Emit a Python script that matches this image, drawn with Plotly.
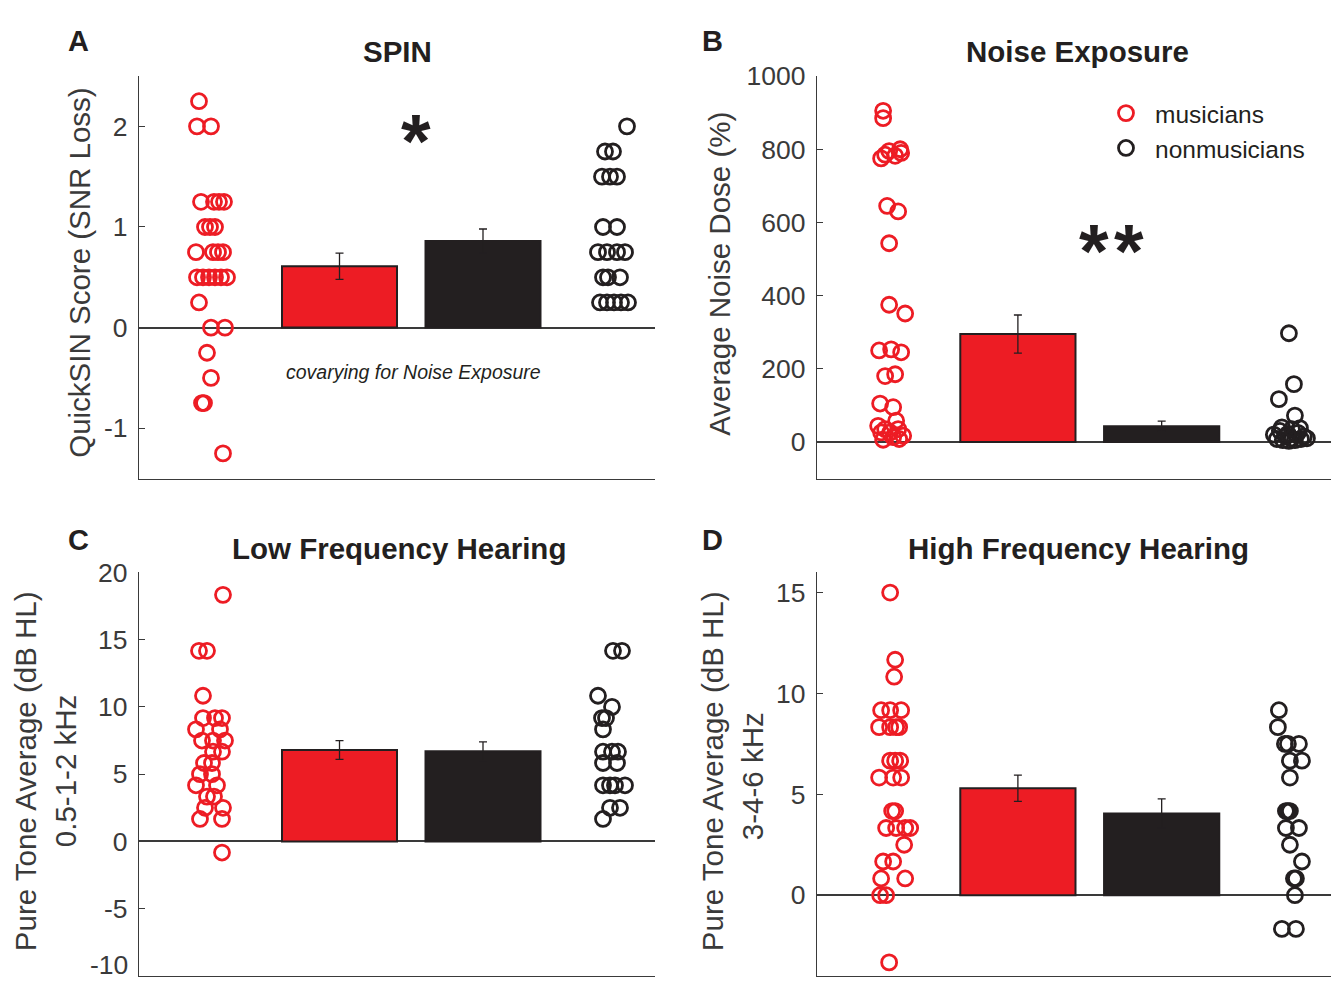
import plotly.graph_objects as go

# ---------------- data ----------------
groups = ["musicians", "nonmusicians"]

# Panel A: SPIN (QuickSIN, SNR loss)
spin_mus = [2.25, 2.0, 2.0, 1.25, 1.25, 1.25, 1.25, 1.0, 1.0, 1.0, 0.75, 0.75, 0.75, 0.75,
            0.5, 0.5, 0.5, 0.5, 0.5, 0.5, 0.25, 0.0, 0.0, -0.25, -0.5, -0.75, -0.75, -1.25]
spin_mus_jit = [-12, -14, 0, -10, 3, 8, 13, -6, -1, 4, -15, 2, 7, 12,
                -14, -8, -2, 4, 10, 16, -12, 0, 14, -4, 0, -9, -7, 12]
spin_non = [2.0, 1.75, 1.75, 1.5, 1.5, 1.5, 1.0, 1.0, 0.75, 0.75, 0.75, 0.75,
            0.5, 0.5, 0.5, 0.25, 0.25, 0.25, 0.25, 0.25]
spin_non_jit = [16, -6, 2, -9, -1, 6, -8, 6, -13, -4, 6, 14, -8, -3, 9, -11, -4, 3, 10, 17]
spin_bar = [0.61, 0.86]
spin_err = [0.13, 0.12]

# Panel B: Noise exposure (average noise dose, %)
noise_mus = [905, 885, 775, 785, 795, 800, 790, 782, 645, 630, 543, 375, 351, 250, 253, 245,
             180, 185, 105, 95, 44, 35, 58, 35, 26, 17, 26, 13, 6, 8]
noise_mus_jit = [-6, -6, -8, -4, 0, 11, 12, 6, -2, 9, 0, 0, 16, -10, 2, 12,
                 -4, 6, -9, 4, -11, -4, 7, 9, 1, 14, -8, 4, -6, 10]
noise_non = [297, 158, 117, 72, 20, 30, 15, 10, 25, 15, 8, 5, 3, 5, 8, 10, 40, 35, 38, 22]
noise_non_jit = [-1, 4, -11, 5, -16, -10, -4, 2, 8, 14, -13, -7, -1, 5, 11, 17, -8, 2, 10, -2]
noise_bar = [295, 43]
noise_err = [52, 14]

# Panel C: Low-frequency PTA (0.5-1-2 kHz, dB HL)
low_mus = [18.33, 14.17, 14.17, 10.83, 9.17, 9.17, 9.17, 8.33, 8.33, 7.5, 7.5, 7.5, 6.67, 6.67,
           5.83, 5.83, 5.0, 5.0, 4.17, 4.17, 3.33, 3.33, 2.5, 2.5, 1.67, 1.67, -0.83]
low_mus_jit = [12, -12, -4, -8, -8, 11, 4, -15, 9, -9, 2, 14, 2, 11,
               -7, 1, -11, 1, -15, 6, -4, 3, -6, 12, -11, 11, 11]
low_non = [14.17, 14.17, 10.83, 10.0, 9.17, 9.17, 8.33, 6.67, 6.67, 6.67, 5.83, 5.83,
           4.17, 4.17, 4.17, 4.17, 2.5, 2.5, 1.67]
low_non_jit = [2, 11, -13, 1, -9, -5, -8, -8, 1, 7, -8, 6, -8, -1, 4, 14, -1, 9, -8]
low_bar = [6.8, 6.7]
low_err = [0.7, 0.7]

# Panel D: High-frequency PTA (3-4-6 kHz, dB HL)
high_mus = [15.0, 11.67, 10.83, 9.17, 9.17, 9.17, 8.33, 8.33, 8.33, 8.33, 6.67, 6.67, 6.67,
            5.83, 5.83, 5.83, 4.17, 4.17, 3.33, 3.33, 3.33, 3.33, 2.5, 1.67, 1.67,
            0.83, 0.83, 0.0, 0.0, -3.33]
high_mus_jit = [1, 6, 5, -8, 1, 12, -10, 1, 7, 10, 1, 6, 11,
                -10, 4, 12, 6, 3, -3, 7, 16, 21, 15, -6, 4, -8, 16, -9, -3, 0]
high_non = [9.17, 8.33, 7.5, 7.5, 7.5, 6.67, 6.67, 5.83, 4.17, 4.17, 4.17, 3.33, 3.33,
            2.5, 1.67, 0.83, 0.83, 0.0, -1.67, -1.67]
high_non_jit = [-11, -12, -5, -2, 9, 0, 12, 0, -4, -2, 0, -4, 9, 0, 12, 4, 6, 5, -8, 6]
high_bar = [5.3, 4.05]
high_err = [0.65, 0.72]

# the lowest low-frequency tick label sits at the page edge and is drawn as a text note
low_edge_label = "-10"

panels = [
    dict(mus=spin_mus, mj=spin_mus_jit, non=spin_non, nj=spin_non_jit, bar=spin_bar, err=spin_err,
         yr=[-1.5, 2.5], tv=[-1, 0, 1, 2], tt=["-1", "0", "1", "2"]),
    dict(mus=noise_mus, mj=noise_mus_jit, non=noise_non, nj=noise_non_jit, bar=noise_bar, err=noise_err,
         yr=[-100, 1000], tv=[0, 200, 400, 600, 800, 1000], tt=["0", "200", "400", "600", "800", "1000"]),
    dict(mus=low_mus, mj=low_mus_jit, non=low_non, nj=low_non_jit, bar=low_bar, err=low_err,
         yr=[-10, 20], tv=[-10, -5, 0, 5, 10, 15, 20], tt=["", "-5", "0", "5", "10", "15", "20"]),
    dict(mus=high_mus, mj=high_mus_jit, non=high_non, nj=high_non_jit, bar=high_bar, err=high_err,
         yr=[-4, 16], tv=[0, 5, 10, 15], tt=["0", "5", "10", "15"]),
]

# ---------------- styling ----------------
RED = "#ED1C24"
BLK = "#231F20"
AX = "#3a3a3a"
FONT = "Liberation Sans, Arial, sans-serif"

# page geometry: figure sits below a small page offset; the page is shown scaled to fit
OFFX = 8
TOP = 22.2
W, H = 1339 - 2 * OFFX, 973
S = 989 / (TOP + H + 8)

def fy(Y):
    """screen y (target) -> figure y"""
    return Y / S - TOP

def px(X):
    return min(1.0, max(0.0, (X - OFFX) / W))

def py(Y):
    return min(1.0, max(0.0, 1 - fy(Y) / H))

# x positions (axis units) for: musician dots, musician bar, nonmusician bar, nonmusician dots
XPOS = [72, 200.5, 344, 472]
BARW = 115
XR_A = [0, 516]
XR_B = [0, 516 * (px(1334) - px(817)) / ((1334 - 817) / W)]

xdom = [[px(139), px(655)], [px(817), px(1334)], [px(139), px(655)], [px(817), px(1334)]]
ydom = [[py(478), py(75)], [py(478), py(75)], [py(976), py(572)], [py(976), py(572)]]
xr = [XR_A, XR_B, XR_A, XR_B]

fig = go.Figure()
layout = dict(
    width=W, height=H,
    margin=dict(l=0, r=0, t=0, b=0),
    paper_bgcolor="white", plot_bgcolor="white",
    font=dict(family=FONT, color=AX),
    showlegend=True,
    legend=dict(x=px(1097), y=1 - (fy(114) - 24.7) / H, xanchor="left", yanchor="top",
                font=dict(size=24.5, color=BLK, family=FONT), bgcolor="rgba(0,0,0,0)",
                itemsizing="trace", itemwidth=48, tracegroupgap=0),
    barmode="overlay",
)

for i, p in enumerate(panels):
    n = "" if i == 0 else str(i + 1)
    xa, ya = "x" + n, "y" + n
    for k, col in enumerate([RED, BLK]):
        fig.add_trace(go.Bar(
            x=[XPOS[1 + k]], y=[p["bar"][k]], width=BARW, xaxis=xa, yaxis=ya,
            marker=dict(color=col, line=dict(color=BLK, width=2)),
            error_y=dict(type="data", array=[p["err"][k]], color=BLK, thickness=1.3, width=4),
            showlegend=False, hoverinfo="skip"))
    fig.add_trace(go.Scatter(
        x=[XPOS[0] + j for j in p["mj"]], y=p["mus"], mode="markers", xaxis=xa, yaxis=ya,
        marker=dict(symbol="circle-open", size=15, color=RED, line=dict(width=2.8, color=RED)),
        name=groups[0], showlegend=(i == 0)))
    fig.add_trace(go.Scatter(
        x=[XPOS[3] + j for j in p["nj"]], y=p["non"], mode="markers", xaxis=xa, yaxis=ya,
        marker=dict(symbol="circle-open", size=15, color=BLK, line=dict(width=2.8, color=BLK)),
        name=groups[1], showlegend=(i == 0)))

    layout["xaxis" + n] = dict(domain=xdom[i], anchor=ya, range=xr[i], showline=True,
                               linecolor=AX, linewidth=1.3, showticklabels=False, ticks="",
                               showgrid=False, zeroline=False, fixedrange=True)
    layout["yaxis" + n] = dict(domain=ydom[i], anchor=xa, range=p["yr"], showline=True,
                               linecolor=AX, linewidth=1.3, ticks="inside", ticklen=6,
                               tickwidth=1.3, tickcolor=AX, tickvals=p["tv"], ticktext=p["tt"],
                               tickfont=dict(size=26.5, color=AX, family=FONT),
                               ticklabelstandoff=5,
                               showgrid=False, zeroline=True, zerolinecolor=AX,
                               zerolinewidth=1.5, fixedrange=True)

fig.update_layout(**layout)

ann = []
def txt(x, y, s, size, bold=False, italic=False, angle=0, color=BLK, yanchor="middle",
        xanchor="center"):
    if bold:
        s = "<b>" + s + "</b>"
    if italic:
        s = "<i>" + s + "</i>"
    ann.append(dict(x=px(x), y=py(y), xref="paper", yref="paper", text=s,
                    showarrow=False, textangle=angle, xanchor=xanchor, yanchor=yanchor,
                    font=dict(size=size, color=color, family=FONT)))

# panel letters (kept just inside the page top)
txt(78, 22, "A", 29, bold=True, yanchor="top")
txt(712, 22, "B", 29, bold=True, yanchor="top")
txt(78, 540, "C", 29, bold=True)
txt(712, 540, "D", 29, bold=True)
# titles
txt(397, 50, "SPIN", 29.5, bold=True)
txt(1077, 50, "Noise Exposure", 29.5, bold=True)
txt(399, 548, "Low Frequency Hearing", 29.5, bold=True)
txt(1078, 548, "High Frequency Hearing", 29.5, bold=True)
# y-axis titles
txt(80, 272, "QuickSIN Score (SNR Loss)", 29.5, angle=-90, color=AX)
txt(720, 273, "Average Noise Dose (%)", 29.5, angle=-90, color=AX)
txt(25, 771, "Pure Tone Average (dB HL)", 29.5, angle=-90, color=AX)
txt(65, 771, "0.5-1-2 kHz", 29.5, angle=-90, color=AX)
txt(712, 771, "Pure Tone Average (dB HL)", 29.5, angle=-90, color=AX)
txt(752, 776, "3-4-6 kHz", 29.5, angle=-90, color=AX)
# bottom tick label of panel C, kept inside the page
ann.append(dict(x=px(129), y=0, xref="paper", yref="paper", text=low_edge_label,
                showarrow=False, xanchor="right", yanchor="bottom", borderpad=0,
                font=dict(size=26.5, color=AX, family=FONT)))
# significance and note
txt(416, 140, "*", 76, bold=True)
txt(1094, 250, "*", 76, bold=True)
txt(1129, 250, "*", 76, bold=True)
txt(413, 371, "covarying for Noise Exposure", 19.5, italic=True)

fig.update_layout(annotations=ann)
fig.write_html("out.html")
